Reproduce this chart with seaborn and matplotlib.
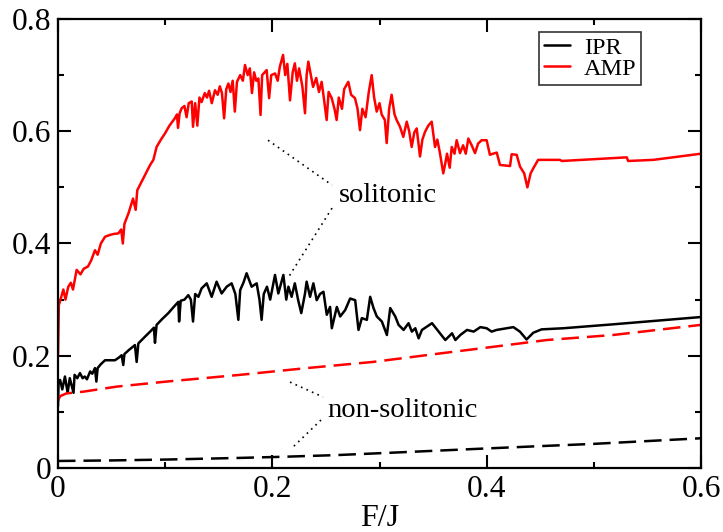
"""
IPR / AMP vs F/J, solitonic and non-solitonic branches
"""
import numpy as np
import pandas as pd
import matplotlib
matplotlib.use("Agg")
import matplotlib.pyplot as plt
import seaborn as sns

# AMP, solitonic (red solid)
amp_sol_x = [0.000, 0.0008, 0.003, 0.005, 0.007, 0.0096, 0.012, 0.014, 0.0174, 0.021,
             0.024, 0.028, 0.031, 0.0345, 0.037, 0.040, 0.0439, 0.048, 0.052, 0.0563,
             0.059, 0.0605, 0.062, 0.066, 0.070, 0.0725, 0.0740, 0.078, 0.082, 0.086,
             0.089, 0.092, 0.096, 0.0998, 0.104, 0.109, 0.111, 0.112, 0.1135, 0.1154,
             0.118, 0.120, 0.122, 0.1248, 0.126, 0.128, 0.130, 0.132, 0.134, 0.137,
             0.139, 0.141, 0.1435, 0.1465, 0.149, 0.151, 0.153, 0.155, 0.157, 0.159,
             0.161, 0.163, 0.165, 0.167, 0.170, 0.1725, 0.1745, 0.177, 0.179, 0.181,
             0.183, 0.185, 0.187, 0.189, 0.1905, 0.1947, 0.197, 0.199, 0.2025, 0.205,
             0.207, 0.210, 0.212, 0.214, 0.2165, 0.219, 0.221, 0.223, 0.225, 0.228,
             0.2305, 0.232, 0.2336, 0.236, 0.238, 0.241, 0.2435, 0.246, 0.248, 0.2507,
             0.2525, 0.2554, 0.258, 0.260, 0.262, 0.265, 0.267, 0.2709, 0.2735, 0.2771,
             0.2795, 0.2818, 0.284, 0.287, 0.290, 0.2927, 0.295, 0.2974, 0.300, 0.302,
             0.305, 0.3067, 0.309, 0.3113, 0.314, 0.316, 0.3191, 0.3222, 0.3254, 0.3277,
             0.330, 0.3325, 0.3347, 0.3378, 0.340, 0.3425, 0.3455, 0.3487, 0.3518, 0.354,
             0.3564, 0.3595, 0.3611, 0.363, 0.3655, 0.3674, 0.370, 0.372, 0.3751, 0.378,
             0.3805, 0.3829, 0.386, 0.3891, 0.392, 0.3953, 0.400, 0.403, 0.406, 0.4094,
             0.4124, 0.4218, 0.4233, 0.428, 0.4311, 0.435, 0.438, 0.441, 0.4435, 0.448,
             0.4684, 0.4700, 0.5307, 0.532, 0.5555, 0.600]
amp_sol_y = [0.200, 0.290, 0.305, 0.318, 0.300, 0.323, 0.330, 0.318, 0.353, 0.345,
             0.355, 0.359, 0.370, 0.388, 0.380, 0.400, 0.412, 0.415, 0.417, 0.418,
             0.425, 0.400, 0.435, 0.455, 0.480, 0.460, 0.495, 0.510, 0.525, 0.540,
             0.549, 0.572, 0.585, 0.596, 0.610, 0.623, 0.630, 0.606, 0.632, 0.641,
             0.645, 0.625, 0.650, 0.653, 0.608, 0.650, 0.610, 0.660, 0.652, 0.668,
             0.660, 0.672, 0.650, 0.673, 0.665, 0.680, 0.668, 0.623, 0.675, 0.685,
             0.670, 0.690, 0.635, 0.688, 0.700, 0.690, 0.718, 0.700, 0.712, 0.668,
             0.705, 0.690, 0.694, 0.629, 0.700, 0.709, 0.659, 0.700, 0.703, 0.690,
             0.715, 0.736, 0.700, 0.720, 0.655, 0.705, 0.721, 0.690, 0.712, 0.680,
             0.632, 0.700, 0.724, 0.700, 0.679, 0.695, 0.670, 0.688, 0.660, 0.620,
             0.670, 0.659, 0.640, 0.620, 0.660, 0.640, 0.675, 0.688, 0.665, 0.659,
             0.640, 0.602, 0.640, 0.625, 0.670, 0.700, 0.660, 0.635, 0.650, 0.630,
             0.620, 0.579, 0.640, 0.665, 0.630, 0.620, 0.608, 0.590, 0.617, 0.600,
             0.572, 0.598, 0.605, 0.555, 0.585, 0.599, 0.610, 0.617, 0.572, 0.585,
             0.561, 0.525, 0.540, 0.560, 0.535, 0.572, 0.560, 0.584, 0.561, 0.575,
             0.560, 0.587, 0.575, 0.561, 0.578, 0.584, 0.584, 0.558, 0.560, 0.562,
             0.540, 0.538, 0.559, 0.558, 0.537, 0.525, 0.500, 0.525, 0.534, 0.549,
             0.549, 0.547, 0.5535, 0.547, 0.549, 0.560]

# IPR, solitonic (black solid)
ipr_sol_x = [0.000, 0.0005, 0.002, 0.004, 0.0065, 0.009, 0.011, 0.0145, 0.0155, 0.018,
             0.0205, 0.023, 0.025, 0.027, 0.030, 0.032, 0.0345, 0.0358, 0.037, 0.040,
             0.0439, 0.048, 0.0532, 0.057, 0.0594, 0.0609, 0.062, 0.066, 0.0718, 0.0734,
             0.075, 0.0812, 0.086, 0.0895, 0.0905, 0.092, 0.097, 0.103, 0.108, 0.1123,
             0.113, 0.1145, 0.118, 0.1216, 0.124, 0.126, 0.128, 0.131, 0.134, 0.1388,
             0.1434, 0.148, 0.1527, 0.1574, 0.162, 0.1655, 0.1683, 0.170, 0.173, 0.176,
             0.1807, 0.1854, 0.188, 0.190, 0.192, 0.195, 0.198, 0.2025, 0.2056, 0.2103,
             0.213, 0.215, 0.218, 0.221, 0.224, 0.227, 0.2305, 0.232, 0.2352, 0.2383,
             0.2414, 0.2445, 0.2477, 0.2508, 0.2539, 0.2555, 0.2602, 0.2633, 0.268, 0.2726,
             0.2773, 0.2804, 0.2835, 0.2882, 0.2913, 0.2944, 0.2975, 0.3022, 0.3069, 0.310,
             0.3147, 0.3178, 0.3225, 0.3271, 0.3302, 0.3334, 0.3365, 0.3396, 0.349, 0.3552,
             0.3614, 0.3677, 0.3708, 0.3754, 0.3817, 0.3879, 0.3941, 0.400, 0.4046, 0.4093,
             0.4249, 0.431, 0.4372, 0.4435, 0.4512, 0.4715, 0.5181, 0.5492, 0.600]
ipr_sol_y = [0.110, 0.150, 0.157, 0.140, 0.163, 0.134, 0.160, 0.134, 0.166, 0.160,
             0.169, 0.160, 0.163, 0.158, 0.172, 0.168, 0.178, 0.154, 0.178, 0.185,
             0.192, 0.192, 0.192, 0.197, 0.201, 0.1835, 0.203, 0.210, 0.219, 0.189,
             0.222, 0.234, 0.243, 0.250, 0.223, 0.255, 0.265, 0.276, 0.287, 0.296,
             0.261, 0.298, 0.300, 0.308, 0.300, 0.261, 0.310, 0.305, 0.320, 0.329,
             0.305, 0.332, 0.311, 0.323, 0.329, 0.310, 0.264, 0.317, 0.330, 0.347,
             0.323, 0.329, 0.300, 0.264, 0.310, 0.323, 0.300, 0.344, 0.311, 0.344,
             0.300, 0.323, 0.305, 0.329, 0.300, 0.276, 0.311, 0.332, 0.305, 0.329,
             0.299, 0.310, 0.314, 0.273, 0.287, 0.249, 0.287, 0.270, 0.2815, 0.302,
             0.299, 0.246, 0.267, 0.264, 0.305, 0.285, 0.270, 0.261, 0.237, 0.285,
             0.270, 0.255, 0.246, 0.258, 0.243, 0.249, 0.231, 0.246, 0.258, 0.243,
             0.228, 0.240, 0.228, 0.237, 0.246, 0.243, 0.251, 0.249, 0.243, 0.246,
             0.251, 0.243, 0.229, 0.241, 0.247, 0.249, 0.256, 0.261, 0.269]

# AMP, non-solitonic (red dashed)
amp_non_x = [0.000, 0.002, 0.008, 0.0236, 0.0548, 0.1014, 0.170, 0.232, 0.294, 0.356,
             0.394, 0.456, 0.518, 0.600]
amp_non_y = [0.120, 0.128, 0.133, 0.136, 0.145, 0.154, 0.166, 0.178, 0.189, 0.204,
             0.213, 0.228, 0.237, 0.255]

# IPR, non-solitonic (black dashed)
ipr_non_x = [0.000, 0.05, 0.10, 0.17, 0.21, 0.26, 0.32, 0.39, 0.45, 0.50, 0.55, 0.60]
ipr_non_y = [0.0125, 0.0135, 0.015, 0.018, 0.020, 0.023, 0.028, 0.034, 0.039, 0.043,
             0.048, 0.053]

# labels with dotted pointer lines (text position, then pointer ends)
sol_text = (0.262, 0.486)
sol_upper = ([0.196, 0.2557], [0.584, 0.504])
sol_lower = ([0.2557, 0.2146], [0.463, 0.3385])
non_text = (0.251, 0.1033)
non_upper = ([0.2165, 0.2473], [0.153, 0.1265])
non_lower = ([0.2454, 0.2183], [0.0855, 0.0356])

sns.set_style("ticks")
plt.rcParams["font.family"] = ["Liberation Serif", "DejaVu Serif"]
plt.rcParams["text.color"] = "black"
plt.rcParams["axes.labelcolor"] = "black"

fig = plt.figure(figsize=(7.23, 5.32), dpi=100)
ax = fig.add_axes([0.0802, 0.1203, 0.8894, 0.8440])

lw = 1.8
dash = (0, (7, 3.2))
sns.lineplot(x=ipr_sol_x, y=ipr_sol_y, ax=ax, color="black", lw=lw, label="IPR",
             estimator=None, sort=False)
sns.lineplot(x=amp_sol_x, y=amp_sol_y, ax=ax, color="red", lw=lw, label="AMP",
             estimator=None, sort=False)
sns.lineplot(x=amp_non_x, y=amp_non_y, ax=ax, color="red", lw=lw, linestyle=dash,
             estimator=None, sort=False)
sns.lineplot(x=ipr_non_x, y=ipr_non_y, ax=ax, color="black", lw=lw, linestyle=dash,
             estimator=None, sort=False)

dot = (0, (1, 2.6))
for xs, ys in [sol_upper, sol_lower, non_upper, non_lower]:
    ax.plot(xs, ys, color="black", lw=1.2, linestyle=dot)
ax.text(*sol_text, "solitonic", fontsize=20.5, va="center", ha="left", color="black")
ax.text(*non_text, "non-solitonic", fontsize=20.5, va="center", ha="left", color="black")

ax.set_xlim(0, 0.6)
ax.set_ylim(0, 0.8)
ax.set_xticks([0, 0.2, 0.4, 0.6])
ax.set_xticklabels(["0", "0.2", "0.4", "0.6"])
ax.set_yticks([0, 0.2, 0.4, 0.6, 0.8])
ax.set_yticklabels(["0", "0.2", "0.4", "0.6", "0.8"])
ax.set_xticks([0.1, 0.3, 0.5], minor=True)
ax.set_yticks([0.1, 0.3, 0.5, 0.7], minor=True)
ax.tick_params(which="both", direction="in", top=True, right=True, width=1.5,
               labelsize=22.7, color="black", labelcolor="black")
ax.tick_params(which="major", length=9.4, pad=5)
ax.tick_params(which="minor", length=4.5)
for sp in ax.spines.values():
    sp.set_visible(True)
    sp.set_linewidth(1.6)
    sp.set_color("black")

ax.set_xlabel("F/J", fontsize=23, labelpad=0)
ax.set_ylabel("")

leg = ax.legend(loc="upper right", bbox_to_anchor=(0.907, 0.971), borderaxespad=0,
                fontsize=17.5, frameon=True, fancybox=False, handlelength=1.1,
                handletextpad=0.55, labelspacing=-0.05, borderpad=0.2)
leg.get_frame().set_edgecolor("black")
leg.get_frame().set_linewidth(1.2)
for t in leg.get_texts():
    t.set_color("black")

plt.savefig("out.png", dpi=100)
plt.close()
